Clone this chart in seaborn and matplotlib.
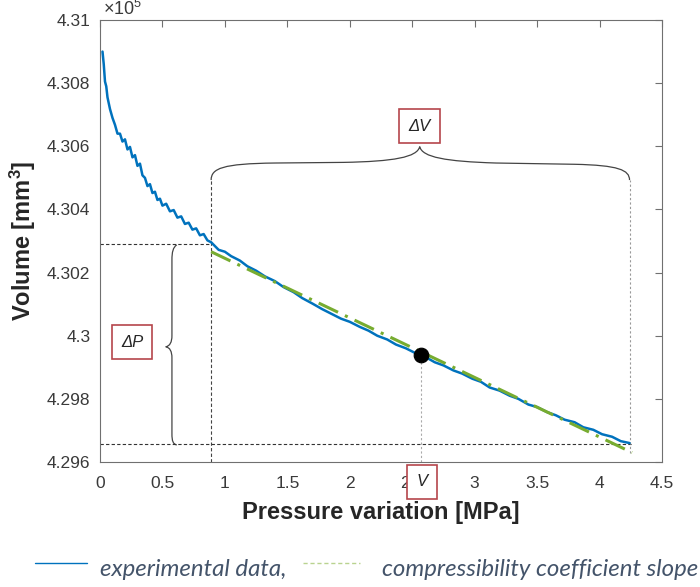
import numpy as np
import pandas as pd
import matplotlib
matplotlib.use('Agg')
import matplotlib.pyplot as plt
from matplotlib.path import Path
from matplotlib.patches import PathPatch
from matplotlib.lines import Line2D
import seaborn as sns

# pressure variation [MPa] and volume [x 1e5 mm^3]
pressure = [0.02, 0.03, 0.04, 0.05, 0.06, 0.08, 0.10, 0.12, 0.14,
            0.16, 0.18, 0.20, 0.22, 0.24, 0.26, 0.28, 0.30, 0.32, 0.34,
            0.36, 0.38, 0.40, 0.42, 0.44, 0.46, 0.48, 0.50, 0.53, 0.56,
            0.59, 0.62, 0.65, 0.68, 0.71, 0.74, 0.77, 0.80, 0.83, 0.86,
            0.89, 0.95, 1.00, 1.05, 1.12, 1.18, 1.25, 1.32, 1.40, 1.47,
            1.55, 1.62, 1.70, 1.78, 1.85, 1.93, 2.00, 2.08, 2.15, 2.22,
            2.30, 2.37, 2.45, 2.52, 2.60, 2.68, 2.75, 2.83, 2.90, 2.98,
            3.05, 3.12, 3.20, 3.28, 3.35, 3.43, 3.50, 3.58, 3.65, 3.72,
            3.80, 3.87, 3.95, 4.02, 4.10, 4.17, 4.24]
volume = [4.30900, 4.30860, 4.30805, 4.30790, 4.30755, 4.30718, 4.30690, 4.30668, 4.30640,
          4.30640, 4.30615, 4.30622, 4.30590, 4.30598, 4.30565, 4.30572, 4.30538, 4.30545, 4.30508,
          4.30500, 4.30474, 4.30480, 4.30452, 4.30456, 4.30430, 4.30434, 4.30412, 4.30418, 4.30394,
          4.30398, 4.30374, 4.30378, 4.30354, 4.30358, 4.30336, 4.30340, 4.30318, 4.30322, 4.30302,
          4.30296, 4.30272, 4.30266, 4.30252, 4.30238, 4.30220, 4.30206, 4.30188, 4.30173, 4.30154,
          4.30138, 4.30119, 4.30102, 4.30084, 4.30070, 4.30054, 4.30044, 4.30028, 4.30016, 4.30000,
          4.29988, 4.29972, 4.29960, 4.29946, 4.29934, 4.29916, 4.29906, 4.29890, 4.29880, 4.29864,
          4.29854, 4.29836, 4.29826, 4.29810, 4.29800, 4.29782, 4.29774, 4.29758, 4.29748, 4.29734,
          4.29726, 4.29710, 4.29702, 4.29688, 4.29680, 4.29666, 4.29660]

# compressibility coefficient slope
slope_p = [0.89, 4.26]
slope_v = [4.30266, 4.29630]

# reference point V
ref_p = [2.57]
ref_v = [4.29939]

# interval limits
p_lo, p_hi = 0.89, 4.24
v_hi, v_lo = 4.30290, 4.29657

xticks = [0, 0.5, 1, 1.5, 2, 2.5, 3, 3.5, 4, 4.5]
yticks = [4.296, 4.298, 4.3, 4.302, 4.304, 4.306, 4.308, 4.31]

sns.set_theme(style='white')
plt.rcParams['font.family'] = ['Liberation Sans', 'DejaVu Sans']
plt.rcParams['mathtext.fontset'] = 'custom'
plt.rcParams['mathtext.rm'] = 'Liberation Sans'
plt.rcParams['mathtext.it'] = 'Liberation Sans:italic'
plt.rcParams['mathtext.bf'] = 'Liberation Sans:bold'

W, H = 700, 587
fig = plt.figure(figsize=(W / 100, H / 100), dpi=100)
ax = fig.add_axes([100 / W, 125 / H, 562 / W, 442 / H])

df = pd.DataFrame({'pressure': pressure, 'volume': volume})
sns.lineplot(data=df, x='pressure', y='volume', ax=ax, color='#0072BD',
             lw=1.8, estimator=None, sort=False, zorder=3)
sns.lineplot(x=slope_p, y=slope_v, ax=ax, color='#77AC30', lw=2.2,
             linestyle=(0, (7, 2.5, 1, 2.5)), zorder=4)
sns.scatterplot(x=ref_p, y=ref_v, ax=ax, color='black', s=110,
                edgecolor='black', zorder=6)

# guide lines
dash = (0, (3, 2))
ax.plot([0, p_lo], [v_hi, v_hi], color='#333333', lw=0.8, ls=dash, zorder=2)
ax.plot([0, 4.26], [v_lo, v_lo], color='#333333', lw=0.8, ls=dash, zorder=2)
ax.plot([p_lo, p_lo], [4.296, 4.30493], color='#444444', lw=0.8, ls=dash, zorder=2)
ax.plot([p_hi, p_hi], [4.2963, 4.30493], color='#999999', lw=0.8, ls=(0, (2, 2)), zorder=2)
ax.plot([ref_p[0], ref_p[0]], [4.296, ref_v[0]], color='#aaaaaa', lw=0.8,
        ls=(0, (2, 2)), zorder=2)

# braces
C, L, M = Path.CURVE4, Path.LINETO, Path.MOVETO
dv_verts = [(0.89, 4.30493),
            (0.89, 4.30530), (0.98, 4.30545), (1.40, 4.30547),
            (1.95, 4.30549),
            (2.35, 4.30552), (2.54, 4.30565), (2.56, 4.30599),
            (2.58, 4.30565), (2.77, 4.30552), (3.17, 4.30547),
            (3.80, 4.30543),
            (4.15, 4.30540), (4.24, 4.30525), (4.24, 4.30493)]
dv_codes = [M, C, C, C, L, C, C, C, C, C, C, L, C, C, C]
ax.add_patch(PathPatch(Path(dv_verts, dv_codes), fill=False, ec='#444444', lw=0.9))

dp_verts = [(0.615, 4.30288),
            (0.585, 4.30280), (0.576, 4.30265), (0.576, 4.30240),
            (0.576, 4.30000),
            (0.576, 4.29980), (0.560, 4.29967), (0.526, 4.29965),
            (0.560, 4.29963), (0.576, 4.29950), (0.576, 4.29930),
            (0.576, 4.29690),
            (0.576, 4.29665), (0.585, 4.29657), (0.615, 4.29654)]
dp_codes = [M, C, C, C, L, C, C, C, C, C, C, L, C, C, C]
ax.add_patch(PathPatch(Path(dp_verts, dp_codes), fill=False, ec='#444444', lw=0.9))

# labelled boxes
box = dict(boxstyle='square,pad=0.55', fc='white', ec='#b5454b', lw=1.2)
ax.text(2.56, 4.30664, 'ΔV', fontsize=12, style='italic', ha='center', va='center',
        bbox=box, zorder=7)
ax.text(0.256, 4.29980, 'ΔP', fontsize=12, style='italic', ha='center', va='center',
        bbox=box, zorder=7)
ax.text(2.58, -0.045, 'V', fontsize=12, style='italic', ha='center', va='center',
        bbox=box, transform=ax.get_xaxis_transform(), clip_on=False, zorder=7)

ax.set_xlim(0, 4.5)
ax.set_ylim(4.296, 4.31)
ax.set_xticks(xticks, ['%g' % t for t in xticks])
ax.set_yticks(yticks, ['%g' % t for t in yticks])
ax.tick_params(direction='in', top=True, right=True, length=5, width=0.8,
               color='#707070', labelsize=12.5, labelcolor='#3a3a3a')
ax.tick_params(axis='x', pad=10)
ax.tick_params(axis='y', pad=7)
for s in ax.spines.values():
    s.set_visible(True)
    s.set_color('#707070')
    s.set_linewidth(0.8)

ax.text(0.005, 1.003, r'$\times10^{5}$', transform=ax.transAxes, fontsize=13,
        color='#3a3a3a', ha='left', va='bottom')
ax.set_xlabel('Pressure variation [MPa]', fontsize=17, fontweight='bold',
              color='#262626', labelpad=7)
ax.set_ylabel(r'Volume [mm$^{\mathbf{3}}$]', fontsize=17, fontweight='bold',
              color='#262626', labelpad=6)

# legend line below the chart
def fx(px):
    return px / W

def fy(px):
    return 1 - px / H

fig.add_artist(Line2D([fx(35), fx(87)], [fy(563), fy(563)], color='#0072BD', lw=1.0))
fig.add_artist(Line2D([fx(303), fx(360)], [fy(563), fy(563)], color='#b9d38f', lw=1.0,
                      ls=(0, (3, 2))))
leg_font = dict(family=['Lato', 'DejaVu Sans'], style='italic', fontsize=17.3,
                color='#44546A', va='baseline')
fig.text(fx(100), fy(576), 'experimental data,', **leg_font)
fig.text(fx(382), fy(576), 'compressibility coefficient slope', **leg_font)

fig.savefig('out.png', dpi=100)
